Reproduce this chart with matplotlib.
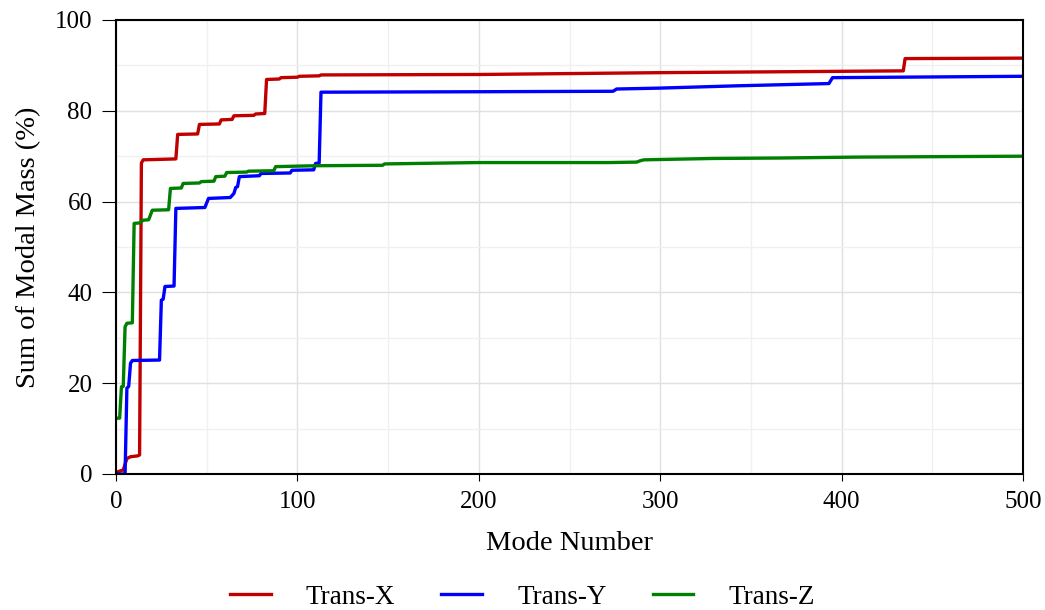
import matplotlib
matplotlib.use("Agg")
import matplotlib.pyplot as plt
from matplotlib.ticker import MultipleLocator

plt.rcParams['font.family'] = ['Liberation Serif', 'DejaVu Serif']
plt.rcParams['mathtext.fontset'] = 'stix'

# Trans-X (red)
x_tx = [1, 4, 6, 8, 12, 13, 14, 15, 33, 34, 45, 46, 57, 58, 64, 65, 76, 77, 82, 83,
        90, 91, 100, 101, 112, 113, 200, 300, 434, 435, 500]
y_tx = [0.5, 0.9, 3.4, 3.8, 4.0, 4.2, 68.5, 69.2, 69.4, 74.8, 74.9, 77.0, 77.1, 78.0,
        78.1, 78.9, 79.0, 79.3, 79.4, 86.9, 87.0, 87.3, 87.4, 87.6, 87.7, 87.9, 88.0,
        88.4, 88.8, 91.5, 91.6]

# Trans-Y (blue)
x_ty = [1, 5, 6, 7, 8, 9, 24, 25, 26, 27, 32, 33, 49, 51, 63, 65, 66, 67, 68, 79, 80,
        96, 97, 109, 110, 112, 113, 200, 274, 276, 300, 342, 393, 395, 500]
y_ty = [0, 0, 18.9, 19.3, 24.4, 25.0, 25.1, 38.3, 38.5, 41.3, 41.4, 58.5, 58.7, 60.7,
        60.9, 61.8, 63.1, 63.3, 65.5, 65.7, 66.2, 66.3, 66.9, 67.0, 68.4, 68.5, 84.1,
        84.2, 84.3, 84.8, 85.0, 85.5, 86.0, 87.3, 87.6]

# Trans-Z (green)
x_tz = [1, 2, 3, 4, 5, 6, 9, 10, 13, 15, 18, 20, 29, 30, 36, 37, 46, 47, 54, 55, 60,
        61, 72, 73, 87, 88, 110, 147, 148, 200, 272, 287, 289, 291, 329, 366, 408, 500]
y_tz = [12.3, 12.3, 19.2, 19.3, 32.4, 33.2, 33.3, 55.2, 55.3, 55.9, 56.0, 58.1, 58.2,
        62.9, 63.0, 64.0, 64.1, 64.4, 64.5, 65.5, 65.6, 66.4, 66.5, 66.7, 66.8, 67.7,
        67.9, 68.0, 68.3, 68.6, 68.6, 68.7, 69.0, 69.2, 69.5, 69.6, 69.8, 70.0]

labels = ['Trans-X', 'Trans-Y', 'Trans-Z']
colors = ['#c00000', '#0000ff', '#008000']

fig = plt.figure(figsize=(10.45, 6.10), dpi=100)
ax = fig.add_axes([116/1045, 1 - 474/610, (1023 - 116)/1045, (474 - 20)/610])

for xs, ys, lab, c in zip([x_tx, x_ty, x_tz], [y_tx, y_ty, y_tz], labels, colors):
    ax.plot(xs, ys, color=c, lw=2.4, label=lab)

ax.set_xlim(0, 500)
ax.set_ylim(0, 100)
ax.xaxis.set_major_locator(MultipleLocator(100))
ax.xaxis.set_minor_locator(MultipleLocator(50))
ax.yaxis.set_major_locator(MultipleLocator(20))
ax.yaxis.set_minor_locator(MultipleLocator(10))
ax.grid(which='major', color='#e0e0e0', lw=1.0)
ax.grid(which='minor', color='#f0f0f0', lw=1.0)
ax.set_axisbelow(True)
ax.tick_params(axis='x', which='major', direction='out', length=5, width=0.8,
               labelsize=18, top=False, pad=7.5)
ax.tick_params(axis='y', which='major', direction='out', length=10, width=0.8,
               labelsize=18, right=False, pad=7)
ax.tick_params(which='minor', length=0)
for s in ax.spines.values():
    s.set_linewidth(1.5)

ax.set_xlabel('Mode Number', fontsize=20.5, labelpad=13)
ax.set_ylabel('Sum of Modal Mass (%)', fontsize=20.5, labelpad=10)

fig.legend(loc='center', bbox_to_anchor=(0.5, 1 - 597/610), ncol=3, frameon=False,
           fontsize=19.5, handlelength=1.5, handletextpad=1.3, columnspacing=1.7)

fig.savefig('out.png', dpi=100)
